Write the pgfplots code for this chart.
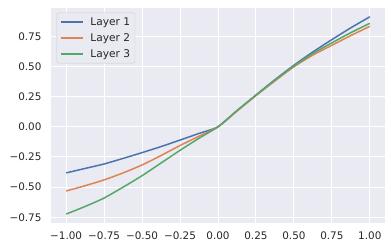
\documentclass[border=0pt]{standalone}
\usepackage{fontspec}
\setmainfont{DejaVu Sans}
\usepackage{pgfplots}
\pgfplotsset{compat=1.18}

\definecolor{sbblue}{HTML}{4C72B0}
\definecolor{sborange}{HTML}{DD8452}
\definecolor{sbgreen}{HTML}{55A868}
\definecolor{sbbg}{HTML}{EAEAF2}
\definecolor{sbtext}{HTML}{262626}

\begin{document}
\begin{tikzpicture}
\begin{axis}[
  scale only axis,
  width=334pt,height=215pt,
  xmin=-1.1,xmax=1.1,ymin=-0.797,ymax=0.984,
  axis background/.style={fill=sbbg},
  axis line style={draw=none},
  major tick length=0pt,
  grid=major,
  major grid style={white,line width=1pt},
  xtick={-1,-0.75,-0.5,-0.25,0,0.25,0.5,0.75,1},
  xticklabels={−1.00,−0.75,−0.50,−0.25,0.00,0.25,0.50,0.75,1.00},
  ytick={-0.75,-0.5,-0.25,0,0.25,0.5,0.75},
  yticklabels={−0.75,−0.50,−0.25,0.00,0.25,0.50,0.75},
  tick label style={font=\fontsize{10.4}{12}\selectfont,text=sbtext},
  xticklabel style={yshift=-5pt},
  yticklabel style={xshift=-6pt},
  legend cell align=left,
  legend style={at={(0.017,0.978)},anchor=north west,
    font=\fontsize{10.6}{15}\selectfont,text=sbtext,
    fill=sbbg,draw=black!20,rounded corners=2pt,
    row sep=2.6pt,inner xsep=3pt,inner ysep=2.5pt},
  legend image code/.code={\draw[#1] (0pt,0pt) -- (22pt,0pt); \path (27pt,0pt);},
]
\addplot[sbblue,line width=1.5pt,smooth,tension=0.4] coordinates {(-1,-0.382)(-0.875,-0.345)(-0.75,-0.308)(-0.625,-0.262)(-0.5,-0.214)(-0.375,-0.164)(-0.25,-0.110)(-0.125,-0.055)(0,0)(0.125,0.132)(0.25,0.263)(0.375,0.390)(0.5,0.510)(0.625,0.620)(0.75,0.722)(0.875,0.820)(1,0.911)};
\addplot[sborange,line width=1.5pt,smooth,tension=0.4] coordinates {(-1,-0.532)(-0.875,-0.488)(-0.75,-0.440)(-0.625,-0.382)(-0.5,-0.316)(-0.375,-0.238)(-0.25,-0.155)(-0.125,-0.078)(0,0)(0.125,0.130)(0.25,0.258)(0.375,0.380)(0.5,0.497)(0.625,0.594)(0.75,0.675)(0.875,0.756)(1,0.832)};
\addplot[sbgreen,line width=1.5pt,smooth,tension=0.4] coordinates {(-1,-0.723)(-0.875,-0.660)(-0.75,-0.590)(-0.625,-0.500)(-0.5,-0.405)(-0.375,-0.300)(-0.25,-0.195)(-0.125,-0.095)(0,0)(0.125,0.135)(0.25,0.262)(0.375,0.386)(0.5,0.504)(0.625,0.607)(0.75,0.695)(0.875,0.780)(1,0.857)};
\legend{Layer 1,Layer 2,Layer 3}
\end{axis}
\path ([xshift=-51pt,yshift=-28pt]current axis.south west) rectangle ([xshift=7pt,yshift=8pt]current axis.north east);
\end{tikzpicture}
\end{document}
